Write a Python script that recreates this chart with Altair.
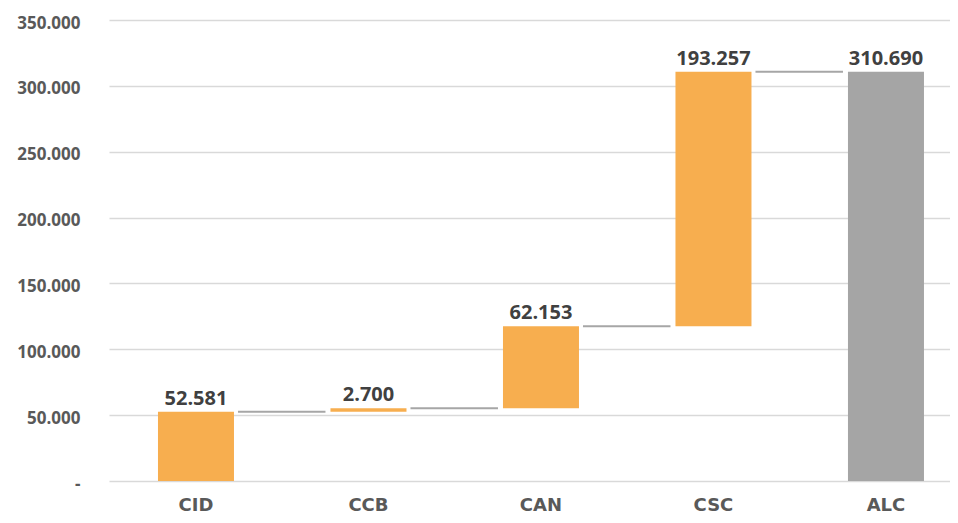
import altair as alt
import pandas as pd

categories = ["CID", "CCB", "CAN", "CSC", "ALC"]
values = [52581, 2700, 62153, 193257, 310690]
is_total = [False, False, False, False, True]
y_ticks = [0, 50000, 100000, 150000, 200000, 250000, 300000, 350000]

ORANGE = "#F7AE4F"
GRAY = "#A5A5A5"

rows = []
running = 0
for cat, val, tot in zip(categories, values, is_total):
    if tot:
        start, end = 0, val
    else:
        start, end = running, running + val
        running = end
    rows.append({
        "cat": cat,
        "start": start,
        "end": end,
        "label": f"{val:,}".replace(",", "."),
        "color": GRAY if tot else ORANGE,
    })
bars_df = pd.DataFrame(rows)

conn = []
for i in range(len(categories) - 1):
    conn.append({"from": categories[i], "to": categories[i + 1],
                 "level": rows[i]["end"]})
conn_df = pd.DataFrame(conn)

x_scale = alt.Scale(domain=categories, paddingInner=0.5594,
                    paddingOuter=0.2174, align=0.653)
y_scale = alt.Scale(domain=[0, 350000], nice=False)

y_axis = alt.Axis(
    values=y_ticks,
    labelExpr="datum.value == 0 ? '-' : replace(format(datum.value, ','), ',', '.')",
    labelFont="Open Sans", labelFontWeight="bold", labelFontSize=17,
    labelColor="#595959", labelPadding=29, ticks=False, tickSize=0,
    domain=False, grid=True, gridColor="#D9D9D9", gridWidth=1.5,
    title=None, labelOffset=3,
)
x_axis = alt.Axis(
    labelFont="DejaVu Sans", labelFontWeight="bold", labelFontSize=18,
    labelColor="#595959", labelPadding=15, ticks=False, tickSize=0,
    domain=False, grid=False, title=None, labelAngle=0,
)

bars = alt.Chart(bars_df).mark_bar().encode(
    x=alt.X("cat:N", scale=x_scale, axis=x_axis, sort=categories),
    y=alt.Y("start:Q", scale=y_scale, axis=y_axis),
    y2="end:Q",
    color=alt.Color("color:N", scale=None),
)

labels = alt.Chart(bars_df).mark_text(
    font="Open Sans", fontWeight="bold", fontSize=20, color="#404040",
    baseline="alphabetic", dy=-7,
).encode(
    x=alt.X("cat:N", scale=x_scale, sort=categories, axis=x_axis),
    y=alt.Y("end:Q", scale=y_scale, axis=y_axis),
    text="label:N",
)

connectors = alt.Chart(conn_df).mark_rule(
    color="#A6A6A6", strokeWidth=2, xOffset=4, x2Offset=-5,
).encode(
    x=alt.X("from:N", scale=x_scale, bandPosition=1, axis=x_axis),
    x2=alt.X2("to:N", bandPosition=0),
    y=alt.Y("level:Q", scale=y_scale, axis=y_axis),
)

chart = alt.layer(bars, connectors, labels).properties(
    width=841, height=461,
    padding={"left": 101, "top": 12, "right": 0, "bottom": 34},
    autosize=alt.AutoSizeParams(type="none"),
    background="white",
).configure_view(strokeWidth=0, stroke=None)

chart.save("out.html", embed_options={"renderer": "svg", "actions": False})
